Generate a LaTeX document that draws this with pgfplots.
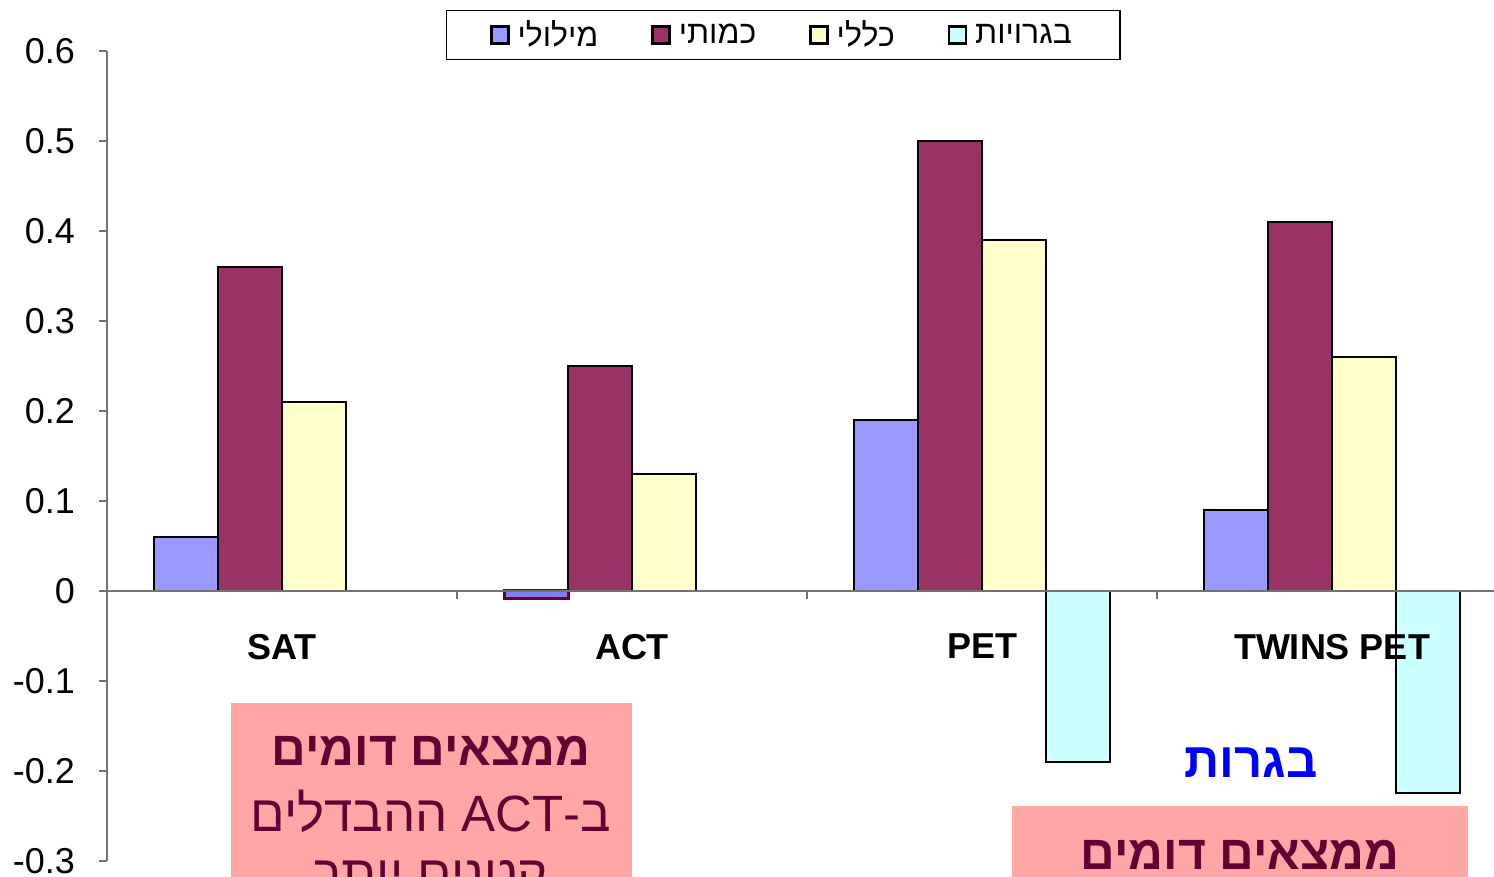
\documentclass[border=0pt]{standalone}
\usepackage{fontspec}
\setmainfont{Liberation Sans}
\newfontfamily\hebfont[Script=Hebrew]{Liberation Sans}
\usepackage{pgfplots}
\pgfplotsset{compat=1.18}
\TeXXeTstate=1
\definecolor{cBlue}{HTML}{9999FF}
\definecolor{cSel}{HTML}{8080F0}
\definecolor{cMaroon}{HTML}{993366}
\definecolor{cYellow}{HTML}{FFFFCC}
\definecolor{cCyan}{HTML}{CCFFFF}
\definecolor{cPink}{HTML}{FFA6A6}
\definecolor{cText}{HTML}{660033}
\begin{document}
\begin{tikzpicture}
\clip (-53.5pt,-8pt) rectangle (693.5pt,430.5pt);
\begin{axis}[
  at={(0,0)}, anchor=south west, scale only axis,
  width=700pt, height=405pt,
  xmin=-0.5, xmax=3.5, ymin=-0.3, ymax=0.6,
  axis x line=middle, axis y line=left,
  axis on top,
  axis line style={-, draw=black!55, line width=0.7pt},
  ybar=0pt, bar width=32pt,
  tick align=outside, major tick length=4pt,
  tick style={draw=black!55, line width=0.7pt},
  xtick={0.5,1.5,2.5}, xticklabels={},
  extra x ticks={0,1,2,3},
  extra x tick labels={SAT,ACT,PET,TWINS PET},
  extra x tick style={major tick length=0pt,
     tick label style={font=\bfseries\fontsize{18}{20}\selectfont, yshift=-18pt}},
  ytick={-0.3,-0.2,-0.1,0,0.1,0.2,0.3,0.4,0.5,0.6},
  yticklabels={-0.3,-0.2,-0.1,0,0.1,0.2,0.3,0.4,0.5,0.6},
  yticklabel style={font=\fontsize{18}{20}\selectfont, xshift=-8.5pt},
  legend columns=4,
  legend style={at={(0.4829,1.0198)}, anchor=center, draw=black, line width=0.6pt,
     font=\hebfont\fontsize{16}{18}\selectfont,
     /tikz/every even column/.append style={column sep=24.5pt},
     /tikz/every odd column/.append style={column sep=2pt},
     inner xsep=22pt, inner ysep=3pt},
  legend image code/.code={\draw[#1, draw=black, line width=1.2pt] (0pt,-4.25pt) rectangle (8.5pt,4.25pt);},
  clip=false,
]
\addplot[fill=cBlue, draw=black, line width=1pt] coordinates {(0,0.06) (2,0.19) (3,0.09)};
\addplot[fill=cMaroon, draw=black, line width=1pt] coordinates {(0,0.36) (1,0.25) (2,0.50) (3,0.41)};
\addplot[fill=cYellow, draw=black, line width=1pt] coordinates {(0,0.21) (1,0.13) (2,0.39) (3,0.26)};
\addplot[fill=cCyan, draw=black, line width=1pt] coordinates {(2,-0.19) (3,-0.225)};
\addplot[fill=cSel, draw=cText, line width=1.5pt, bar shift=-48pt, forget plot] coordinates {(1,-0.008)};
\legend{{\beginR מילולי\endR},{\beginR כמותי\endR},{\beginR כללי\endR},{\beginR בגרויות\endR}}
\end{axis}
% annotation boxes
\fill[cPink] (62pt,-40pt) rectangle (262.5pt,79pt);
\node[text=cText, font=\hebfont\bfseries\fontsize{24}{28}\selectfont] at (162pt,55pt) {\beginR ממצאים דומים\endR};
\node[text=cText, font=\hebfont\fontsize{25.5}{30}\selectfont] at (162pt,25pt) {\beginR ב-\beginL ACT\endL{} ההבדלים\endR};
\node[text=cText, font=\hebfont\fontsize{25.5}{30}\selectfont] at (162pt,-10pt) {\beginR קטנים יותר\endR};
\fill[cPink] (452.5pt,-40pt) rectangle (680.5pt,27.5pt);
\node[text=cText, font=\hebfont\bfseries\fontsize{24}{28}\selectfont] at (566.5pt,3pt) {\beginR ממצאים דומים\endR};
\node[text=blue, font=\hebfont\bfseries\fontsize{24.5}{28}\selectfont] at (572pt,49pt) {\beginR בגרות\endR};
\end{tikzpicture}
\end{document}
